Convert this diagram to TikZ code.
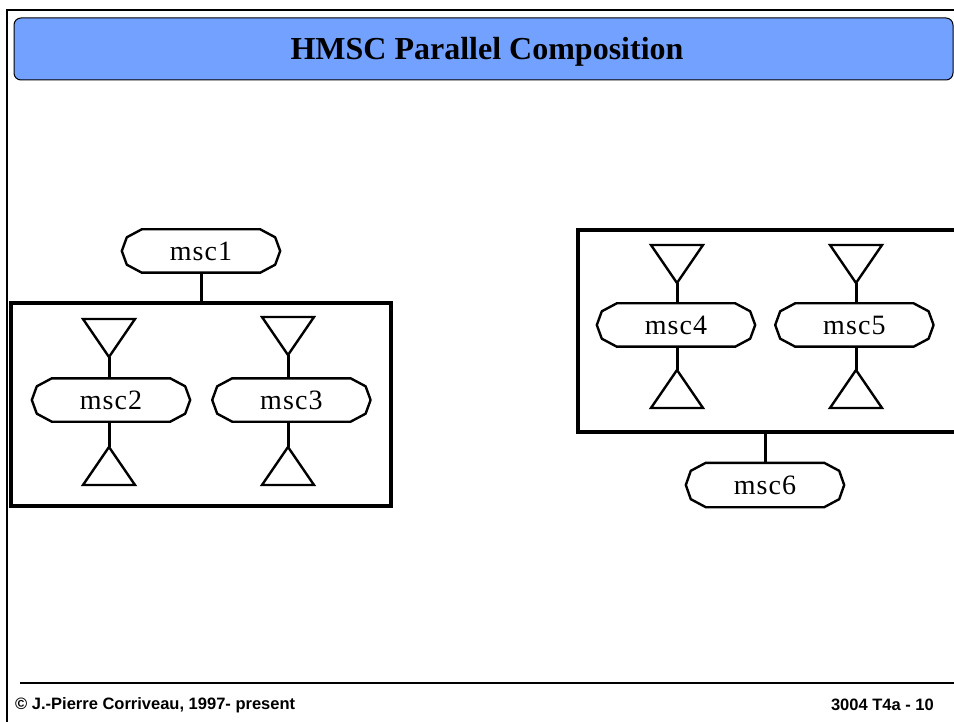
\documentclass[tikz,border=0pt]{standalone}
\usepackage{fontspec}
\setmainfont{Liberation Serif}
\setsansfont{Liberation Sans}
\newfontfamily\mscfont[LetterSpace=4]{Liberation Serif}
\usepackage{tikz}
\usetikzlibrary{positioning,calc}
\usepackage{xcolor}
\definecolor{hmscblue}{RGB}{115,161,255}
\tikzstyle{mscref} = [minimum width=158pt, minimum height=43pt, inner sep=0pt, font=\mscfont\fontsize{28}{28}\selectfont]
\tikzstyle{mscline} = [line width=2.4pt, line join=round]
\tikzstyle{parframe} = [rectangle, draw, line width=3.2pt, inner sep=0pt]
\tikzstyle{link} = [line width=3pt]
\tikzstyle{term} = [line width=2.4pt, line join=miter]

\begin{document}
\begin{tikzpicture}[x=1pt, y=-1pt]
\useasboundingbox (0,0) rectangle (954,722);

% Slide frame and title
\draw[line width=2pt] (7,722) -- (7,10) -- (960,10);
\draw[fill=hmscblue, rounded corners=7pt, line width=1pt] (14,18) rectangle (953,80);
\node (title) at (487,52) {\fontsize{32}{32}\selectfont\bfseries HMSC Parallel Composition};

% Left: msc1 followed by parallel frame
\node (msc1) [mscref] at (201,251) {msc1};
\node (par1) [parframe, minimum width=380pt, minimum height=203pt] at (201,404.5) {};
\node (msc2) [mscref] at (111,400) {msc2};
\node (msc3) [mscref, right=22pt of msc2] {msc3};

% Right: parallel frame followed by msc6
\node (par2) [parframe, minimum width=384pt, minimum height=202pt] at (770,331) {};
\node (msc4) [mscref] at (676,325) {msc4};
\node (msc5) [mscref, right=20pt of msc4] {msc5};
\node (msc6) [mscref, minimum height=44pt] at (765,485) {msc6};

% Reference outlines
\foreach \n in {msc1,msc2,msc3,msc4,msc5,msc6}
  \draw[mscline] ([xshift=20pt]\n.north west) -- ([xshift=-20pt]\n.north east)
    -- ([xshift=-5pt,yshift=-8pt]\n.north east) -- (\n.east)
    -- ([xshift=-5pt,yshift=8pt]\n.south east) -- ([xshift=-20pt]\n.south east)
    -- ([xshift=20pt]\n.south west) -- ([xshift=5pt,yshift=8pt]\n.south west)
    -- (\n.west) -- ([xshift=5pt,yshift=-8pt]\n.north west) -- cycle;

% Start and end symbols
\coordinate (in2) at (109,357);
\coordinate (in3) at (288,355);
\coordinate (in4) at (677,283);
\coordinate (in5) at (856,283);
\coordinate (out2) at (109,447);
\coordinate (out3) at (288,447);
\coordinate (out4) at (677,370);
\coordinate (out5) at (856,370);
\foreach \c in {in2,in3,in4,in5}
  \draw[term] (\c) -- ++(-26,-38) -- ++(52,0) -- cycle;
\foreach \c in {out2,out3,out4,out5}
  \draw[term] (\c) -- ++(-26,38) -- ++(52,0) -- cycle;

% Connectors
\draw[link] (msc1.south) -- (par1.north);
\draw[link] (msc6.north) -- (msc6.north |- par2.south);
\draw[link] (in2) -- (in2 |- msc2.north);
\draw[link] (in3) -- (in3 |- msc3.north);
\draw[link] (in4) -- (in4 |- msc4.north);
\draw[link] (in5) -- (in5 |- msc5.north);
\draw[link] (out2 |- msc2.south) -- (out2);
\draw[link] (out3 |- msc3.south) -- (out3);
\draw[link] (out4 |- msc4.south) -- (out4);
\draw[link] (out5 |- msc5.south) -- (out5);

% Footer
\draw[line width=1.2pt] (20,683) -- (960,683);
\node (author) [anchor=west, inner sep=0pt] at (15,705) {\sffamily\bfseries\fontsize{16.5}{17}\selectfont \textcopyright{} J.-Pierre Corriveau, 1997- present};
\node (pageno) [anchor=east, inner sep=0pt] at (934,705) {\sffamily\bfseries\fontsize{16.5}{17}\selectfont 3004 T4a - 10};
\end{tikzpicture}
\end{document}
